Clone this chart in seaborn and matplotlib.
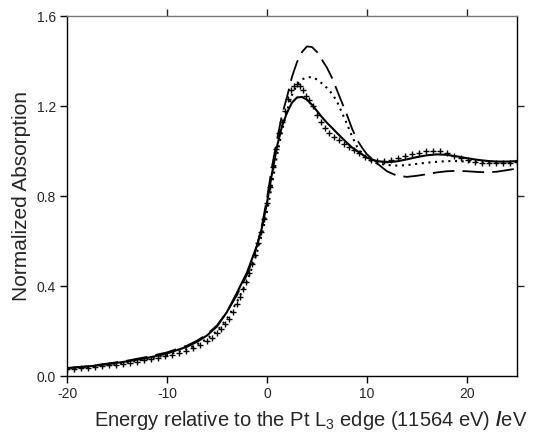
import numpy as np
import pandas as pd
import matplotlib
matplotlib.use("Agg")
import matplotlib.pyplot as plt
import seaborn as sns

# ---- data ----
energy = [-20, -18, -16, -14, -12, -10, -8, -7, -6, -5, -4, -3, -2, -1.5, -1, -0.5,
          0, 0.5, 1, 1.5, 2, 2.5, 3, 3.5, 4, 4.5, 5, 5.5, 6, 6.5, 7, 7.5, 8, 8.5,
          9, 9.5, 10, 11, 12, 13, 14, 15, 16, 17, 18, 19, 20, 21, 22, 23, 24, 25]

solid = [0.035, 0.042, 0.052, 0.065, 0.080, 0.100, 0.130, 0.152, 0.180, 0.220, 0.285, 0.370, 0.460, 0.520, 0.580, 0.660,
         0.770, 0.900, 1.020, 1.110, 1.170, 1.215, 1.238, 1.240, 1.228, 1.205, 1.178, 1.150, 1.125, 1.103, 1.080, 1.058, 1.036, 1.016,
         1.000, 0.985, 0.970, 0.955, 0.950, 0.954, 0.963, 0.973, 0.981, 0.985, 0.983, 0.976, 0.968, 0.961, 0.956, 0.953, 0.953, 0.955]

dashed = [0.035, 0.043, 0.055, 0.068, 0.085, 0.105, 0.135, 0.157, 0.185, 0.225, 0.285, 0.360, 0.450, 0.510, 0.580, 0.670,
          0.790, 0.930, 1.050, 1.160, 1.240, 1.330, 1.395, 1.440, 1.465, 1.462, 1.440, 1.405, 1.370, 1.325, 1.270, 1.215, 1.160, 1.100,
          1.050, 1.015, 0.985, 0.945, 0.910, 0.890, 0.885, 0.890, 0.897, 0.905, 0.910, 0.912, 0.910, 0.907, 0.905, 0.908, 0.915, 0.922]

dotted = [0.030, 0.038, 0.048, 0.060, 0.075, 0.093, 0.120, 0.140, 0.165, 0.200, 0.255, 0.330, 0.420, 0.480, 0.550, 0.630,
          0.730, 0.850, 0.980, 1.090, 1.180, 1.250, 1.295, 1.318, 1.328, 1.328, 1.318, 1.300, 1.280, 1.255, 1.220, 1.170, 1.120, 1.065,
          1.020, 0.990, 0.965, 0.945, 0.938, 0.935, 0.937, 0.943, 0.948, 0.952, 0.955, 0.955, 0.953, 0.950, 0.948, 0.948, 0.950, 0.953]

plus_energy = [-20, -19.3, -18.6, -17.9, -17.2, -16.5, -15.8, -15.1, -14.4, -13.7, -13, -12.3, -11.6, -10.9,
               -10.2, -9.5, -8.8, -8.1, -7.4, -6.7, -6.0, -5.5, -5.0, -4.6, -4.2, -3.8, -3.4, -3.0, -2.7,
               -2.4, -2.1, -1.8, -1.5, -1.2, -0.9, -0.6, -0.3, 0, 0.3, 0.6, 0.9, 1.2, 1.5, 1.8, 2.1, 2.4,
               2.7, 3.0, 3.3, 3.6, 3.9, 4.2, 4.6, 5.0, 5.4, 5.8, 6.2, 6.7, 7.2, 7.7, 8.2, 8.7, 9.2, 9.8,
               10.4, 11.0, 11.7, 12.4, 13.1, 13.8, 14.5, 15.2, 15.9, 16.6, 17.3, 18.0, 18.7, 19.4, 20.1,
               20.8, 21.5, 22.2, 22.9, 23.6, 24.3, 25.0]
plus_vals = [0.030, 0.032, 0.035, 0.037, 0.040, 0.043, 0.047, 0.051, 0.055, 0.059, 0.064, 0.069, 0.074, 0.080,
             0.087, 0.094, 0.102, 0.112, 0.124, 0.138, 0.155, 0.170, 0.190, 0.208, 0.230, 0.255, 0.285, 0.320, 0.350,
             0.385, 0.420, 0.460, 0.500, 0.540, 0.590, 0.640, 0.700, 0.770, 0.840, 0.930, 1.010, 1.080, 1.130, 1.180, 1.230, 1.270,
             1.290, 1.300, 1.290, 1.270, 1.245, 1.225, 1.200, 1.160, 1.130, 1.100, 1.080, 1.062, 1.047, 1.033, 1.020, 1.005, 0.990, 0.975,
             0.962, 0.955, 0.955, 0.960, 0.968, 0.977, 0.986, 0.993, 0.998, 1.000, 0.998, 0.990, 0.980, 0.970, 0.960,
             0.953, 0.948, 0.945, 0.945, 0.946, 0.948, 0.952]

x_ticks = [-20, -10, 0, 10, 20]
y_ticks = [0.0, 0.4, 0.8, 1.2, 1.6]

# ---- style ----
sns.set_style("ticks")
plt.rcParams["font.family"] = ["Liberation Sans", "DejaVu Sans"]
plt.rcParams["mathtext.fontset"] = "custom"
plt.rcParams["mathtext.rm"] = "Liberation Sans"
plt.rcParams["mathtext.it"] = "Liberation Sans:italic"
plt.rcParams["mathtext.bf"] = "Liberation Sans:bold"

fig = plt.figure(figsize=(5.35, 4.42), dpi=100)
ax = fig.add_axes([67 / 535, 66 / 442, 450 / 535, 360 / 442])

lines = pd.DataFrame({"energy": energy, "solid": solid, "dashed": dashed, "dotted": dotted})
sns.lineplot(data=lines, x="energy", y="solid", ax=ax, color="black", lw=1.5,
             estimator=None, sort=False)
sns.lineplot(data=lines, x="energy", y="dashed", ax=ax, color="black", lw=1.3,
             estimator=None, sort=False, dashes=False, linestyle=(0, (12, 4.5)))
sns.lineplot(data=lines, x="energy", y="dotted", ax=ax, color="black", lw=1.5,
             estimator=None, sort=False, linestyle=(0, (1, 2.2)))
pl = pd.DataFrame({"energy": plus_energy, "val": plus_vals})
sns.scatterplot(data=pl, x="energy", y="val", ax=ax, marker="+", s=20, color="black",
                linewidth=1.0)

ax.set_xlim(-20, 25)
ax.set_ylim(0, 1.6)
ax.set_xticks(x_ticks)
ax.set_xticklabels([str(t) for t in x_ticks])
ax.set_yticks(y_ticks)
ax.set_yticklabels([f"{t:.1f}" for t in y_ticks])

ax.tick_params(axis="both", direction="out", length=5, width=1, labelsize=10, color="black", pad=3)

# secondary ticks on top and right
sec_x = ax.secondary_xaxis("top")
sec_x.set_xticks(x_ticks[1:])
sec_x.tick_params(direction="out", length=5, width=1, labeltop=False)
sec_x.set_xticklabels([])
sec_y = ax.secondary_yaxis("right")
sec_y.set_yticks(y_ticks[1:-1])
sec_y.tick_params(direction="out", length=5, width=1, labelright=False)
sec_y.set_yticklabels([])
for s in sec_x.spines.values():
    s.set_visible(False)
for s in sec_y.spines.values():
    s.set_visible(False)

for side in ["left", "right", "top", "bottom"]:
    ax.spines[side].set_visible(True)
    ax.spines[side].set_color("black")
    ax.spines[side].set_linewidth(1.0)
ax.spines["top"].set_color("#777777")

ax.set_ylabel("Normalized Absorption", fontsize=15, labelpad=4)
ax.set_xlabel(r"Energy relative to the Pt L$_3$ edge (11564 eV) $\mathbf{/}$eV", fontsize=14.5,
              labelpad=6, ha="right", x=1.022)

fig.savefig("out.png", dpi=100)
